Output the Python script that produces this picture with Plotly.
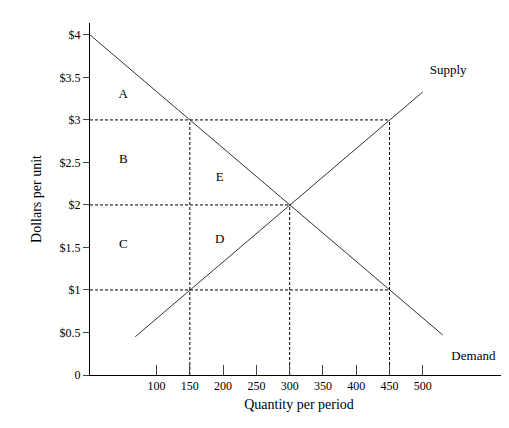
import plotly.graph_objects as go

# supply and demand lines (quantity, price)
demand_q = [0, 530]
demand_p = [4.0, 0.47]
supply_q = [68, 500]
supply_p = [0.45, 3.33]

# dashed guide lines
h_guides = [(3, 450), (2, 300), (1, 450)]
v_guides = [(150, 3), (300, 2), (450, 3)]

area_labels = ["A", "B", "C", "E", "D"]
area_q = [50, 50, 50, 195, 195]
area_p = [3.3, 2.53, 1.53, 2.32, 1.59]

y_ticks = [0, 0.5, 1, 1.5, 2, 2.5, 3, 3.5, 4]
y_tick_text = ["0", "$0.5", "$1", "$1.5", "$2", "$2.5", "$3", "$3.5", "$4"]
x_ticks = [100, 150, 200, 250, 300, 350, 400, 450, 500]

font = dict(family="Liberation Serif", size=12, color="black")

fig = go.Figure()
line = dict(color="#333", width=1)
fig.add_trace(go.Scatter(x=demand_q, y=demand_p, mode="lines", line=line))
fig.add_trace(go.Scatter(x=supply_q, y=supply_p, mode="lines", line=line))

dash = dict(color="black", width=1, dash="3px,2px")
for p, q in h_guides:
    fig.add_trace(go.Scatter(x=[0, q], y=[p, p], mode="lines", line=dash))
for q, p in v_guides:
    fig.add_trace(go.Scatter(x=[q, q], y=[0, p], mode="lines", line=dash))

fig.add_trace(go.Scatter(x=area_q, y=area_p, mode="text", text=area_labels,
                         textfont=dict(family="Liberation Serif", size=13)))
fig.add_trace(go.Scatter(x=[538, 576], y=[3.58, 0.22], mode="text",
                         text=["Supply", "Demand"],
                         textfont=dict(family="Liberation Serif", size=13)))

fig.update_layout(
    width=509, height=428, showlegend=False,
    paper_bgcolor="white", plot_bgcolor="white",
    margin=dict(l=82, r=9, t=15, b=61),
    font=font,
    xaxis=dict(range=[0, 628], tickvals=x_ticks, ticks="inside", ticklen=10,
               showline=True, linecolor="black", showgrid=False, zeroline=False,
               automargin=False,
               title=dict(text="Quantity per period", standoff=6)),
    yaxis=dict(range=[0, 4.14], tickvals=y_ticks, ticktext=y_tick_text,
               ticks="outside", ticklen=6, showline=True, linecolor="black",
               showgrid=False, zeroline=False, automargin=False,
               title=dict(text="Dollars per unit", standoff=14)),
)

fig.write_html("out.html")
